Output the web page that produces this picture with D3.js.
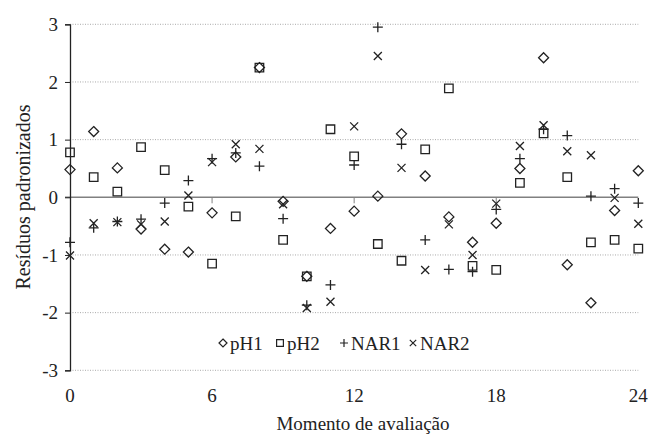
<!DOCTYPE html>
<html>
<head>
<meta charset="utf-8">
<script src="https://cdn.jsdelivr.net/npm/d3@7"></script>
<style>
  body { margin: 0; background: #fff; }
  text { font-family: "Liberation Serif", "Times New Roman", serif; fill: #222; }
</style>
</head>
<body>
<div id="chart"></div>
<script>
// DATA
// ------------------------------------------------------------------

var moments = d3.range(0, 25);
var xTicks = [0, 6, 12, 18, 24];
var yTicks = [-3, -2, -1, 0, 1, 2, 3];

var pH1 = [0.48, 1.14, 0.51, -0.55, -0.90, -0.95, -0.27, 0.70, 2.25, -0.07, -1.37, -0.54, -0.24,
           0.02, 1.10, 0.37, -0.34, -0.78, -0.45, 0.50, 2.42, -1.17, -1.83, -0.23, 0.46];
var pH2 = [0.78, 0.35, 0.10, 0.87, 0.47, -0.16, -1.15, -0.33, 2.25, -0.74, -1.37, 1.18, 0.71,
           -0.81, -1.10, 0.83, 1.89, -1.19, -1.26, 0.25, 1.11, 0.35, -0.78, -0.74, -0.89];
var NAR1 = [-0.78, -0.53, -0.42, -0.38, -0.10, 0.29, 0.67, 0.77, 0.54, -0.37, -1.87, -1.52, 0.56,
            2.95, 0.92, -0.74, -1.25, -1.29, -0.21, 0.67, 1.18, 1.07, 0.02, 0.15, -0.10];
var NAR2 = [-1.01, -0.45, -0.43, -0.47, -0.42, 0.03, 0.61, 0.92, 0.84, -0.12, -1.92, -1.81, 1.23,
            2.45, 0.51, -1.26, -0.47, -1.00, -0.11, 0.89, 1.25, 0.80, 0.73, -0.01, -0.46];

var seriesNames = ["pH1", "pH2", "NAR1", "NAR2"];
var seriesValues = [pH1, pH2, NAR1, NAR2];

// CANVAS
// ------------------------------------------------------------------

var width = 652,
    height = 438;

var svg = d3.select("#chart")
    .append("svg")
    .attr("width", width)
    .attr("height", height);

var xScale = d3.scaleLinear().domain([0, 24]).range([70, 638.3]),
    yScale = d3.scaleLinear().domain([-3, 3]).range([370.3, 24.3]);

// GRID
// ------------------------------------------------------------------

svg.selectAll(".grid")
    .data(yTicks.filter(function(d) { return d !== 0; }))
    .enter().append("line")
    .attr("x1", xScale(0)).attr("x2", xScale(24))
    .attr("y1", function(d) { return yScale(d); })
    .attr("y2", function(d) { return yScale(d); })
    .attr("stroke", "#aaa")
    .attr("stroke-width", 1)
    .attr("stroke-dasharray", "1,1.5");

// zero line with ticks
svg.append("line")
    .attr("x1", xScale(0) - 5).attr("x2", xScale(24))
    .attr("y1", yScale(0)).attr("y2", yScale(0))
    .attr("stroke", "#808080")
    .attr("stroke-width", 1.5);

svg.selectAll(".xtick")
    .data(xTicks.slice(1, 4))
    .enter().append("line")
    .attr("x1", function(d) { return xScale(d); })
    .attr("x2", function(d) { return xScale(d); })
    .attr("y1", yScale(0)).attr("y2", yScale(0) + 6)
    .attr("stroke", "#808080")
    .attr("stroke-width", 1);

// AXES
// ------------------------------------------------------------------

var yAxis = d3.axisLeft(yScale)
    .tickValues(yTicks)
    .tickSize(5)
    .tickPadding(7)
    .tickFormat(d3.format("d"));

var gy = svg.append("g")
    .attr("transform", "translate(" + xScale(0) + ",0)")
    .call(yAxis);
gy.select(".domain").attr("stroke", "#222").attr("stroke-width", 1.3);
gy.selectAll(".tick line").attr("stroke", "#222");
gy.selectAll(".tick text")
    .style("font-size", "19px")
    .style("font-family", "Liberation Serif, serif")
    .attr("fill", "#222")
    .text(function(d) { return d < 0 ? "-" + Math.abs(d) : d; });

svg.selectAll(".xlabel")
    .data(xTicks)
    .enter().append("text")
    .attr("x", function(d) { return xScale(d); })
    .attr("y", 402)
    .style("text-anchor", "middle")
    .style("font-size", "19px")
    .text(function(d) { return d; });

svg.append("text")
    .attr("x", 363)
    .attr("y", 430)
    .style("text-anchor", "middle")
    .style("font-size", "19px")
    .text("Momento de avaliação");

svg.append("text")
    .attr("transform", "rotate(-90)")
    .attr("x", -197)
    .attr("y", 30)
    .style("text-anchor", "middle")
    .style("font-size", "20px")
    .text("Resíduos padronizados");

// MARKERS
// ------------------------------------------------------------------

function symbolPath(name, s) {
  var h = s / 2;
  if (name === "pH1")
    return "M0," + (-h) + "L" + h + ",0L0," + h + "L" + (-h) + ",0Z";
  if (name === "pH2")
    return "M" + (-h * 0.85) + "," + (-h * 0.85) + "h" + (s * 0.85) + "v" + (s * 0.85) + "h" + (-s * 0.85) + "Z";
  if (name === "NAR1")
    return "M" + (-h) + ",0H" + h + "M0," + (-h) + "V" + h;
  return "M" + (-h * 0.8) + "," + (-h * 0.8) + "L" + (h * 0.8) + "," + (h * 0.8) +
         "M" + (h * 0.8) + "," + (-h * 0.8) + "L" + (-h * 0.8) + "," + (h * 0.8);
}

seriesNames.forEach(function(name, i) {
  svg.append("g")
      .selectAll("path")
      .data(seriesValues[i])
      .enter().append("path")
      .attr("transform", function(d, j) {
        return "translate(" + xScale(moments[j]) + "," + yScale(d) + ")";
      })
      .attr("d", symbolPath(name, 10))
      .attr("fill", "none")
      .attr("stroke", "#222")
      .attr("stroke-width", 1.3);
});

// LEGEND
// ------------------------------------------------------------------

var legendX = [223, 280, 344, 413];
var legendY = 343;

var legend = svg.append("g");
seriesNames.forEach(function(name, i) {
  legend.append("path")
      .attr("transform", "translate(" + legendX[i] + "," + legendY + ")")
      .attr("d", symbolPath(name, 8))
      .attr("fill", "none")
      .attr("stroke", "#222")
      .attr("stroke-width", 1.2);
  legend.append("text")
      .attr("x", legendX[i] + 7)
      .attr("y", legendY + 7)
      .style("font-size", "19px")
      .text(name);
});
</script>
</body>
</html>
